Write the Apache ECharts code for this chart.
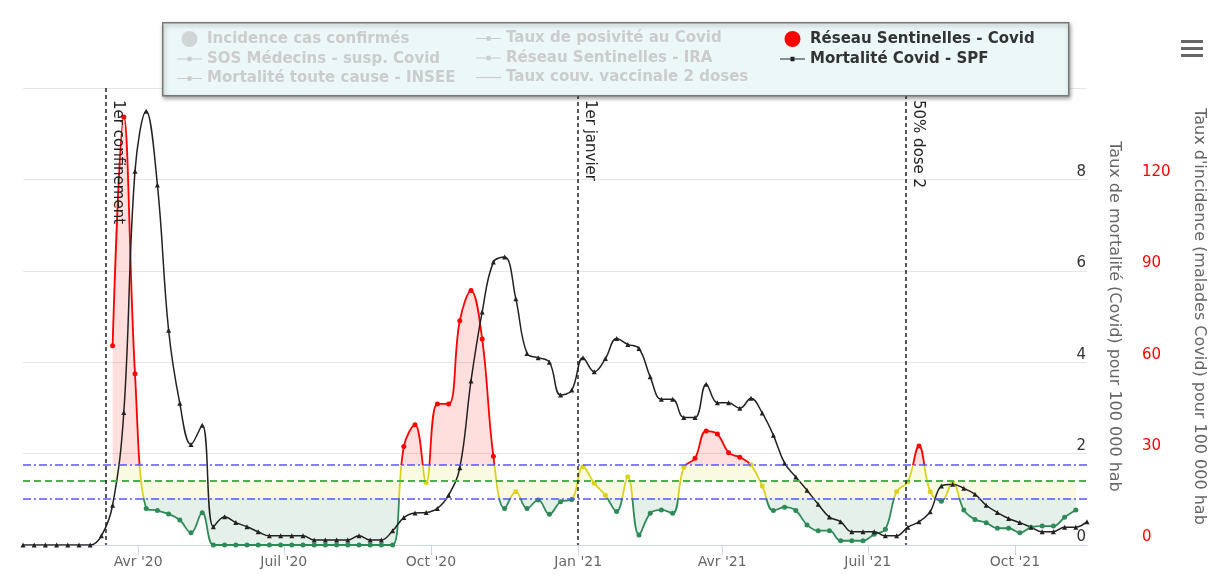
<!DOCTYPE html>
<html>
<head>
<meta charset="utf-8">
<script src="https://cdn.jsdelivr.net/npm/echarts@6/dist/echarts.min.js"></script>
<style>
  html, body { margin: 0; padding: 0; background: #fff; }
  #chart { width: 1215px; height: 574px; }
</style>
</head>
<body>
<div id="chart"></div>
<script>
// weekly points, one per Monday starting 2020-01-20
const mortality = [
  0, 0, 0, 0, 0, 0, 0, 0.2, 0.87, 2.9,
  8.18, 9.49, 7.88, 4.7, 3.1, 2.2, 2.62, 0.4, 0.62, 0.49,
  0.4, 0.29, 0.2, 0.2, 0.2, 0.2, 0.11, 0.11, 0.11, 0.11,
  0.2, 0.11, 0.11, 0.31, 0.6, 0.7, 0.71, 0.8, 1.09, 1.69,
  3.59, 5.1, 6.19, 6.3, 5.39, 4.19, 4.1, 4.0, 3.28, 3.39,
  4.1, 3.79, 4.08, 4.52, 4.39, 4.3, 3.68, 3.19, 3.19, 2.79,
  2.79, 3.52, 3.11, 3.11, 2.99, 3.21, 2.89, 2.4, 1.79, 1.49,
  1.2, 0.89, 0.61, 0.51, 0.29, 0.29, 0.29, 0.2, 0.2, 0.39,
  0.51, 0.73, 1.29, 1.33, 1.24, 1.11, 0.87, 0.71, 0.58, 0.49,
  0.39, 0.29, 0.29, 0.39, 0.39, 0.51
];
const incidence = [
  null, null, null, null, null, null, null, null, 65.4, 140.5,
  56.2, 12.0, 11.3, 10.2, 8.2, 4.0, 10.6, 0, 0, 0,
  0, 0, 0, 0, 0, 0, 0, 0, 0, 0,
  0, 0, 0, 0, 32.3, 39.5, 20.5, 46.3, 46.3, 73.6,
  83.5, 67.6, 29.1, 12.0, 17.5, 12.0, 14.8, 10.1, 14.2, 14.9,
  25.7, 20.3, 16.3, 11.0, 22.4, 3.3, 10.4, 11.5, 10.4, 25.5,
  28.5, 37.4, 36.4, 30.3, 28.8, 26.3, 19.4, 11.3, 12.4, 11.3,
  6.6, 4.7, 4.7, 1.4, 1.4, 1.4, 3.5, 5.2, 17.5, 20.8,
  32.5, 17.5, 14.4, 20.5, 11.5, 8.4, 7.3, 5.5, 5.5, 4.0,
  5.8, 6.2, 6.2, 9.1, 11.5, null
];
const thresholdLow = 15.3;
const thresholdMid = 21;
const thresholdHigh = 26.4;

const tickDates = ['2020-04-01', '2020-07-01', '2020-10-01', '2021-01-01', '2021-04-01', '2021-07-01', '2021-10-01'];
const tickLabels = ["Avr '20", "Juil '20", "Oct '20", "Jan '21", "Avr '21", "Juil '21", "Oct '21"];
const eventDates = ['2020-03-12', '2021-01-01', '2021-07-25'];
const eventLabels = ['1er confinement', '1er janvier', '50% dose 2'];

const hiddenSeries = [
  'Incidence cas confirmés', 'SOS Médecins - susp. Covid', 'Mortalité toute cause - INSEE',
  'Taux de posivité au Covid', 'Réseau Sentinelles - IRA', 'Taux couv. vaccinale 2 doses'
];

const day = (s) => {
  const [y, m, d] = s.split('-').map(Number);
  return new Date(y, m - 1, d).getTime();
};
const weeks = mortality.map((_, i) => new Date(2020, 0, 20 + 7 * i).getTime());
const tickTimes = tickDates.map(day);
const lineDotIcon = 'path://M0,4.6 L25,4.6 L25,5.8 L0,5.8 Z M10.5,3 L14.5,3 L14.5,7.4 L10.5,7.4 Z';
const FONT = 'DejaVu Sans';

const chart = echarts.init(document.getElementById('chart'));

const legendBase = {
  orient: 'vertical',
  top: 26,
  itemWidth: 25,
  itemHeight: 16,
  itemGap: 4.5,
  z: 10,
  inactiveColor: '#cccccc',
  selectedMode: false,
  textStyle: { fontFamily: FONT, fontSize: 15, fontWeight: 'bold', color: '#333' },
};

const option = {
  animation: false,
  textStyle: { fontFamily: FONT },
  grid: { left: 23, right: 127, top: 88, bottom: 29 },
  legend: [
    {
      ...legendBase,
      left: 172,
      data: [
        { name: 'Incidence cas confirmés', icon: 'circle' },
        { name: 'SOS Médecins - susp. Covid', icon: lineDotIcon },
        { name: 'Mortalité toute cause - INSEE', icon: lineDotIcon },
      ],
    },
    {
      ...legendBase,
      left: 471,
      data: [
        { name: 'Taux de posivité au Covid', icon: lineDotIcon },
        { name: 'Réseau Sentinelles - IRA', icon: lineDotIcon },
        { name: 'Taux couv. vaccinale 2 doses', icon: 'path://M0,4.6 L25,4.6 L25,5.8 L0,5.8 Z' },
      ],
    },
    {
      ...legendBase,
      left: 775,
      data: [
        { name: 'Réseau Sentinelles - Covid', icon: 'circle' },
        { name: 'Mortalité Covid - SPF', icon: lineDotIcon },
      ],
    },
  ],
  graphic: [
    {
      type: 'rect', left: 162, top: 22, z: 6, silent: true,
      shape: { width: 906, height: 73 },
      style: {
        fill: '#ecf8f8', stroke: '#777', lineWidth: 1.5,
        shadowBlur: 4, shadowColor: 'rgba(0,0,0,0.35)', shadowOffsetX: 1, shadowOffsetY: 2,
      },
    },
    { type: 'rect', left: 1181, top: 40, z: 6, shape: { width: 22, height: 3 }, style: { fill: '#666' } },
    { type: 'rect', left: 1181, top: 47, z: 6, shape: { width: 22, height: 3 }, style: { fill: '#666' } },
    { type: 'rect', left: 1181, top: 54, z: 6, shape: { width: 22, height: 3 }, style: { fill: '#666' } },
  ],
  visualMap: {
    type: 'piecewise',
    show: false,
    seriesIndex: 6,
    dimension: 1,
    pieces: [
      { lt: thresholdLow, color: '#2e8b57' },
      { gte: thresholdLow, lt: thresholdHigh, color: '#dcd21e' },
      { gte: thresholdHigh, color: '#ff0000' },
    ],
  },
  xAxis: {
    type: 'value',
    min: weeks[0],
    max: weeks[weeks.length - 1],
    axisLine: { lineStyle: { color: '#ccd6eb', width: 1 } },
    axisTick: { show: true, customValues: tickTimes, length: 10, lineStyle: { color: '#ccd6eb' } },
    axisLabel: {
      customValues: tickTimes,
      color: '#666',
      fontSize: 14,
      margin: 10,
      formatter: (v) => {
        const i = tickTimes.findIndex((t) => Math.abs(t - v) < 86400000);
        return i >= 0 ? tickLabels[i] : '';
      },
    },
    splitLine: { show: false },
  },
  yAxis: [
    {
      type: 'value',
      position: 'right',
      min: 0, max: 10, interval: 2,
      name: 'Taux de mortalité (Covid) pour 100 000 hab',
      nameLocation: 'middle',
      nameRotate: -90,
      nameGap: 19,
      nameTextStyle: { color: '#666', fontSize: 16 },
      axisLine: { show: false },
      axisTick: { show: false },
      axisLabel: { inside: true, margin: 1, showMaxLabel: false, color: '#333', fontSize: 15, verticalAlign: 'bottom' },
      splitLine: { lineStyle: { color: '#e6e6e6' } },
    },
    {
      type: 'value',
      position: 'right',
      offset: 47,
      min: 0, max: 150, interval: 30,
      name: "Taux d'incidence (malades Covid) pour 100 000 hab",
      nameLocation: 'middle',
      nameRotate: -90,
      nameGap: 57,
      nameTextStyle: { color: '#666', fontSize: 16 },
      axisLine: { show: false },
      axisTick: { show: false },
      axisLabel: { margin: 8, showMaxLabel: false, color: '#ff0000', fontSize: 15, verticalAlign: 'bottom' },
      splitLine: { show: false },
    },
  ],
  series: [
    { name: hiddenSeries[0], type: 'scatter', yAxisIndex: 1, data: [], color: '#7cb5ec' },
    { name: hiddenSeries[1], type: 'line', yAxisIndex: 1, data: [], color: '#434348' },
    { name: hiddenSeries[2], type: 'line', yAxisIndex: 0, data: [], color: '#90ed7d' },
    { name: hiddenSeries[3], type: 'line', yAxisIndex: 1, data: [], color: '#f7a35c' },
    { name: hiddenSeries[4], type: 'line', yAxisIndex: 1, data: [], color: '#8085e9' },
    { name: hiddenSeries[5], type: 'line', yAxisIndex: 1, data: [], color: '#f15c80' },
    {
      name: 'Réseau Sentinelles - Covid',
      type: 'line',
      yAxisIndex: 1,
      color: '#ff0000',
      smooth: 0.4,
      symbol: 'circle',
      symbolSize: 5,
      lineStyle: { width: 1.8 },
      areaStyle: { origin: thresholdMid, opacity: 0.13 },
      data: weeks.map((t, i) => [t, incidence[i]]),
      markLine: {
        silent: true,
        symbol: 'none',
        label: { show: false },
        data: [
          { yAxis: thresholdHigh, lineStyle: { color: '#5555ff', width: 1.5, type: [8, 3, 2, 3] } },
          { yAxis: thresholdMid, lineStyle: { color: '#4caf50', width: 2, type: [7, 4] } },
          { yAxis: thresholdLow, lineStyle: { color: '#5555ff', width: 1.5, type: [8, 3, 2, 3] } },
        ],
      },
    },
    {
      name: 'Mortalité Covid - SPF',
      type: 'line',
      yAxisIndex: 0,
      color: '#222',
      smooth: 0.4,
      symbol: 'triangle',
      symbolSize: 5,
      lineStyle: { width: 1.5, color: '#222' },
      data: weeks.map((t, i) => [t, mortality[i]]),
      markLine: {
        silent: true,
        symbol: 'none',
        lineStyle: { color: '#222', width: 1.5, type: [4, 3] },
        label: {
          show: true,
          position: 'insideStartTop',
          distance: [12, 4],
          color: '#222',
          fontSize: 15,
          fontFamily: FONT,
        },
        data: eventDates.map((d, i) => [
          { coord: [day(d), 10], label: { formatter: eventLabels[i] } },
          { coord: [day(d), 0] },
        ]),
      },
    },
  ],
};

option.legend.forEach((l) => {
  l.selected = {};
  hiddenSeries.forEach((n) => { l.selected[n] = false; });
});

chart.setOption(option);
window.addEventListener('resize', () => chart.resize());
</script>
</body>
</html>
